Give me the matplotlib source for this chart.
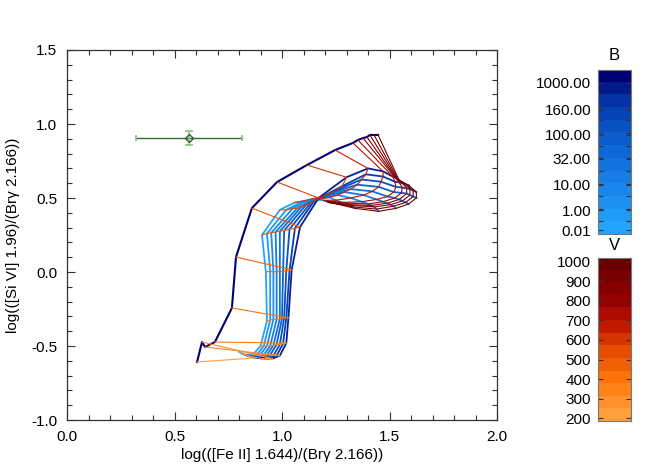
import numpy as np
import matplotlib
matplotlib.use("Agg")
import matplotlib.pyplot as plt
from matplotlib.colors import LinearSegmentedColormap
from matplotlib.ticker import MultipleLocator, FormatStrFormatter

plt.rcParams['font.family'] = ['Liberation Sans', 'DejaVu Sans']

# ---------------- data ----------------
V_values = [200, 250, 300, 350, 400, 450, 500, 550, 600, 650, 700, 750, 800, 850, 900, 950, 1000]
B_values = [0.01, 0.5, 1, 2, 5, 10, 32, 100, 160, 1000]

# x = log([Fe II]/Brg), y = log([Si VI]/Brg), one pair per B value, ordered by V
fe_B0p01 = [0.80, 0.83, 0.87, 0.90, 0.93, 0.925, 0.907, 0.99, 1.06, 1.16, 1.19, 1.20, 1.205, 1.21, 1.215, 1.22, 1.225]
si_B0p01 = [-0.54, -0.56, -0.55, -0.50, -0.33, 0.00, 0.25, 0.42, 0.47, 0.49, 0.485, 0.48, 0.48, 0.475, 0.47, 0.47, 0.47]

fe_B0p5 = [0.81, 0.845, 0.885, 0.915, 0.945, 0.945, 0.93, 1.02, 1.10, 1.22, 1.25, 1.28, 1.30, 1.31, 1.32, 1.33, 1.34]
si_B0p5 = [-0.55, -0.57, -0.555, -0.50, -0.325, 0.005, 0.26, 0.42, 0.48, 0.505, 0.485, 0.47, 0.465, 0.455, 0.45, 0.44, 0.43]

fe_B1 = [0.82, 0.86, 0.90, 0.93, 0.96, 0.96, 0.95, 1.05, 1.13, 1.26, 1.32, 1.37, 1.40, 1.415, 1.43, 1.44, 1.45]
si_B1 = [-0.555, -0.575, -0.555, -0.50, -0.32, 0.00, 0.265, 0.43, 0.49, 0.52, 0.50, 0.475, 0.46, 0.45, 0.44, 0.425, 0.41]

fe_B2 = [0.83, 0.875, 0.915, 0.945, 0.975, 0.975, 0.97, 1.07, 1.16, 1.29, 1.38, 1.44, 1.47, 1.49, 1.505, 1.52, 1.53]
si_B2 = [-0.56, -0.58, -0.56, -0.50, -0.32, 0.005, 0.27, 0.43, 0.50, 0.54, 0.52, 0.49, 0.475, 0.465, 0.455, 0.445, 0.43]

fe_B5 = [0.84, 0.89, 0.93, 0.96, 0.99, 0.99, 0.99, 1.09, 1.19, 1.32, 1.42, 1.49, 1.525, 1.545, 1.56, 1.575, 1.59]
si_B5 = [-0.565, -0.58, -0.56, -0.495, -0.315, 0.00, 0.275, 0.44, 0.51, 0.56, 0.545, 0.51, 0.50, 0.49, 0.48, 0.47, 0.46]

fe_B10 = [0.85, 0.905, 0.945, 0.975, 1.00, 1.005, 1.01, 1.11, 1.22, 1.35, 1.45, 1.52, 1.555, 1.58, 1.595, 1.61, 1.625]
si_B10 = [-0.57, -0.585, -0.56, -0.49, -0.315, 0.005, 0.28, 0.45, 0.53, 0.59, 0.575, 0.54, 0.535, 0.53, 0.52, 0.51, 0.50]

fe_B32 = [0.86, 0.92, 0.96, 0.99, 1.01, 1.02, 1.035, 1.13, 1.25, 1.37, 1.46, 1.53, 1.56, 1.58, 1.595, 1.61, 1.625]
si_B32 = [-0.575, -0.585, -0.565, -0.49, -0.31, 0.01, 0.29, 0.46, 0.55, 0.625, 0.61, 0.575, 0.57, 0.565, 0.56, 0.55, 0.54]

fe_B100 = [0.87, 0.935, 0.975, 1.005, 1.02, 1.035, 1.06, 1.15, 1.28, 1.39, 1.47, 1.525, 1.545, 1.56, 1.57, 1.58, 1.59]
si_B100 = [-0.575, -0.585, -0.565, -0.485, -0.31, 0.01, 0.295, 0.48, 0.58, 0.66, 0.645, 0.61, 0.605, 0.60, 0.595, 0.59, 0.585]

fe_B160 = [0.88, 0.955, 0.99, 1.02, 1.03, 1.045, 1.084, 1.17, 1.30, 1.40, 1.47, 1.515, 1.525, 1.53, 1.535, 1.54, 1.545]
si_B160 = [-0.58, -0.585, -0.565, -0.48, -0.31, 0.015, 0.304, 0.50, 0.64, 0.70, 0.68, 0.645, 0.64, 0.635, 0.63, 0.625, 0.62]

fe_B1000 = [0.605, 0.628, 0.642, 0.688, 0.767, 0.786, 0.860, 0.977, 1.116, 1.247, 1.330, 1.353, 1.377, 1.395, 1.409, 1.428, 1.447]
si_B1000 = [-0.608, -0.473, -0.507, -0.473, -0.243, 0.101, 0.432, 0.608, 0.723, 0.824, 0.872, 0.892, 0.905, 0.912, 0.926, 0.926, 0.926]

fe_curves = [fe_B0p01, fe_B0p5, fe_B1, fe_B2, fe_B5, fe_B10, fe_B32, fe_B100, fe_B160, fe_B1000]
si_curves = [si_B0p01, si_B0p5, si_B1, si_B2, si_B5, si_B10, si_B32, si_B100, si_B160, si_B1000]

# observed point with error bars
obs_fe, obs_si = 0.567, 0.905
obs_fe_err, obs_si_err = 0.245, 0.045

# colour-bar labels
B_bar_labels = ['0.01', '1.00', '10.00', '32.00', '100.00', '160.00', '1000.00']
V_bar_labels = [200, 300, 400, 500, 600, 700, 800, 900, 1000]

# ---------------- colours ----------------
def rgb(*c):
    return tuple(v / 255 for v in c)

cmap_B = LinearSegmentedColormap.from_list('B', [
    (0.0, rgb(35, 165, 255)), (0.5, rgb(15, 105, 215)),
    (0.8, rgb(5, 60, 175)), (1.0, rgb(0, 0, 115))])
cmap_V = LinearSegmentedColormap.from_list('V', [
    (0.0, rgb(255, 160, 60)), (0.25, rgb(255, 115, 10)), (0.45, rgb(225, 70, 0)),
    (0.6, rgb(190, 20, 0)), (0.75, rgb(150, 0, 0)), (1.0, rgb(105, 0, 0))])

# ---------------- figure ----------------
W, H = 664, 469
fig = plt.figure(figsize=(W / 100, H / 100), dpi=100)
ax = fig.add_axes([67 / W, (H - 420) / H, 430 / W, 370 / H])

fe_arr = np.array(fe_curves)
si_arr = np.array(si_curves)
nB = len(B_values)

# constant-B curves
for i in range(nB):
    c = cmap_B(i / (nB - 1))
    lw = 1.5 if i == nB - 1 else 1.3
    ax.plot(fe_arr[i], si_arr[i], color=c, lw=lw, zorder=3)

# constant-V lines (from highest B to lowest)
for j, v in enumerate(V_values):
    c = cmap_V((v - 200) / 800)
    ax.plot(fe_arr[::-1, j], si_arr[::-1, j], color=c, lw=0.8, zorder=4)

# observed point
ax.plot([obs_fe - obs_fe_err, obs_fe + obs_fe_err], [obs_si, obs_si], color='#2f6b2f', lw=1.0, zorder=5)
ax.errorbar([obs_fe], [obs_si], yerr=[obs_si_err], fmt='none', ecolor='#86c286', elinewidth=1.2,
            capsize=3, capthick=1.2, zorder=5)
ax.errorbar([obs_fe - obs_fe_err, obs_fe + obs_fe_err], [obs_si, obs_si], yerr=[0.02, 0.02], fmt='none',
            ecolor='#86c286', elinewidth=1.2, capsize=0, zorder=5)
ax.plot([obs_fe], [obs_si], marker='D', ms=4.5, mfc='none', mec='#2f5f2f', mew=1.0, zorder=6)

ax.set_xlim(0.0, 2.0)
ax.set_ylim(-1.0, 1.5)
ax.xaxis.set_major_locator(MultipleLocator(0.5))
ax.xaxis.set_minor_locator(MultipleLocator(0.1))
ax.yaxis.set_major_locator(MultipleLocator(0.5))
ax.yaxis.set_minor_locator(MultipleLocator(0.1))
ax.xaxis.set_major_formatter(FormatStrFormatter('%.1f'))
ax.yaxis.set_major_formatter(FormatStrFormatter('%.1f'))
ax.tick_params(which='both', direction='in', top=True, right=True, colors='#333333',
               labelcolor='black', labelsize=11)
ax.tick_params(which='major', length=5.8, width=0.8)
ax.tick_params(which='minor', length=3.4, width=0.8)
ax.tick_params(axis='y', pad=7)
ax.tick_params(axis='x', pad=7)
for s in ax.spines.values():
    s.set_color('#333333')
    s.set_linewidth(0.9)

ax.set_xlabel('log(([Fe II] 1.644)/(Br\u03b3 2.166))', fontsize=11, labelpad=3)
ax.set_ylabel('log(([Si VI] 1.96)/(Br\u03b3 2.166))', fontsize=11, labelpad=8)

# ---------------- colour bars ----------------
nb = 13
axB = fig.add_axes([598 / W, (H - 234) / H, 33 / W, 164 / H])
axB.imshow(np.arange(nb).reshape(-1, 1), cmap=cmap_B, origin='lower', aspect='auto',
           extent=[0, 1, 0, nb], interpolation='nearest')
axB.set_xlim(0, 1)
axB.set_ylim(0, nb)
axB.set_xticks([])
B_label_pos = [0.3, 1.9, 3.9, 5.95, 7.85, 9.85, 12.0]
axB.set_yticks(B_label_pos)
axB.set_yticklabels(B_bar_labels)
axB.set_yticks(np.arange(1, nb), minor=True)
axB.tick_params(axis='y', which='both', direction='in', left=True, right=True,
                colors='#333333', labelcolor='black', labelsize=11, pad=5)
axB.tick_params(which='major', length=3.5, width=0.8)
axB.tick_params(which='minor', length=3.5, width=0.8)
for s in axB.spines.values():
    s.set_color('#777777')
    s.set_linewidth(0.8)
fig.text(614 / W, 1 - 55 / H, 'B', ha='center', va='center', fontsize=12)

axV = fig.add_axes([598 / W, (H - 421) / H, 33 / W, 163 / H])
v_lo, v_hi = 185, 1020
axV.imshow(np.arange(nb).reshape(-1, 1), cmap=cmap_V, origin='lower', aspect='auto',
           extent=[0, 1, v_lo, v_hi], interpolation='nearest')
axV.set_xlim(0, 1)
axV.set_ylim(v_lo, v_hi)
axV.set_xticks([])
axV.set_yticks(V_bar_labels)
axV.set_yticklabels([str(v) for v in V_bar_labels])
axV.tick_params(axis='y', which='both', direction='in', left=True, right=True,
                colors='#333333', labelcolor='black', labelsize=11, pad=5, length=3.5, width=0.8)
for s in axV.spines.values():
    s.set_color('#777777')
    s.set_linewidth(0.8)
fig.text(614 / W, 1 - 245 / H, 'V', ha='center', va='center', fontsize=12)

fig.savefig('out.png', dpi=100)
